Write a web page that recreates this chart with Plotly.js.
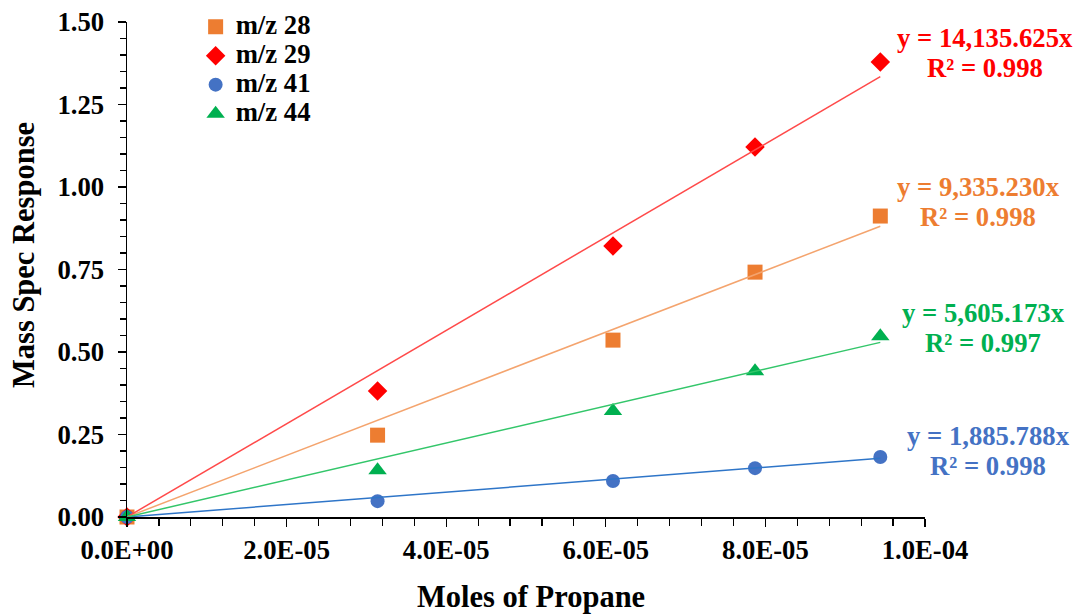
<!DOCTYPE html>
<html>
<head>
<meta charset="utf-8">
<script src="https://cdn.plot.ly/plotly-3.0.1.min.js"></script>
<style>html,body{margin:0;padding:0;background:#fff;}#chart{width:1079px;height:615px;}</style>
</head>
<body>
<div id="chart"></div>
<script>
// Data
var moles = [0.0, 3.14e-5, 6.09e-5, 7.87e-5, 9.44e-5];
var mz28 = [0.0, 0.248, 0.536, 0.742, 0.912];
var mz29 = [0.0, 0.382, 0.821, 1.121, 1.379];
var mz41 = [0.0, 0.048, 0.109, 0.148, 0.182];
var mz44 = [0.0, 0.142, 0.321, 0.442, 0.548];
var seriesNames = ["m/z 28", "m/z 29", "m/z 41", "m/z 44"];
var slopes = [9335.230, 14135.625, 1885.788, 5605.173];
var eqLabels = ["y = 9,335.230x", "y = 14,135.625x", "y = 1,885.788x", "y = 5,605.173x"];
var r2Labels = ["R² = 0.998", "R² = 0.998", "R² = 0.998", "R² = 0.997"];
var xTickVals = [0, 2e-5, 4e-5, 6e-5, 8e-5, 1e-4];
var xTickText = ["0.0E+00", "2.0E-05", "4.0E-05", "6.0E-05", "8.0E-05", "1.0E-04"];
var yTickVals = [0, 0.25, 0.5, 0.75, 1.0, 1.25, 1.5];
var yTickText = ["0.00", "0.25", "0.50", "0.75", "1.00", "1.25", "1.50"];
var xTitle = "Moles of Propane";
var yTitle = "Mass Spec Response";

var ys = [mz28, mz29, mz41, mz44];
var markerColors = ["#ED7D31", "#FF0000", "#4472C4", "#00B050"];
var lineColors = ["#F4A46E", "#FF4A4A", "#2E75C8", "#33C66A"];
var symbols = ["square", "diamond", "circle", "triangle-up"];
var markerSizes = [15, 15, 14, 16];
// annotation centre positions in pixels
var eqPos = [
  {x: 978, y: 187}, {x: 985, y: 38}, {x: 988, y: 436}, {x: 983, y: 313}
];

var FONT = "Liberation Serif, Times New Roman, serif";
var FS = 26.7;
var traces = [];
var xMax = moles[moles.length - 1];
for (var k = 0; k < 4; k++) {
  traces.push({
    x: moles, y: ys[k], name: '<span style="font-size:' + FS + 'px">' + seriesNames[k] + '</span>',
    mode: "markers", type: "scatter", cliponaxis: false,
    marker: {color: markerColors[k], symbol: symbols[k], size: markerSizes[k]}
  });
}
for (var i = 0; i < 4; i++) {
  traces.push({
    x: [0, xMax], y: [0, slopes[i] * xMax],
    mode: "lines", type: "scatter", showlegend: false, hoverinfo: "skip",
    line: {color: lineColors[i], width: 1.5}, cliponaxis: false
  });
}

var annotations = [];
var W = 1079, H = 615, L = 127, R = 154, T = 22, B = 98;
var pw = W - L - R, ph = H - T - B;
function px2x(p) { return (p - L) / pw; }
function px2y(p) { return 1 - (p - T) / ph; }
for (var m = 0; m < 4; m++) {
  annotations.push({xref: "paper", yref: "paper", x: px2x(eqPos[m].x), y: px2y(eqPos[m].y), text: "<b>" + eqLabels[m] + "</b>",
    showarrow: false, xanchor: "center", yanchor: "middle",
    font: {family: FONT, size: FS, color: markerColors[m]}});
  annotations.push({xref: "paper", yref: "paper", x: px2x(eqPos[m].x), y: px2y(eqPos[m].y + 30), text: "<b>" + r2Labels[m] + "</b>",
    showarrow: false, xanchor: "center", yanchor: "middle",
    font: {family: FONT, size: FS, color: markerColors[m]}});
}
// axis titles
annotations.push({xref: "paper", yref: "paper", x: px2x(531), y: px2y(597), text: "<b>" + xTitle + "</b>",
  showarrow: false, xanchor: "center", yanchor: "middle", font: {family: FONT, size: 30.5, color: "#000"}});
annotations.push({xref: "paper", yref: "paper", x: px2x(24), y: px2y(255), text: "<b>" + yTitle + "</b>",
  showarrow: false, xanchor: "center", yanchor: "middle", textangle: -90, font: {family: FONT, size: 30.5, color: "#000"}});

var layout = {
  width: W, height: H,
  margin: {l: L, r: R, t: T, b: B, pad: 0, autoexpand: false},
  paper_bgcolor: "#fff", plot_bgcolor: "#fff",
  font: {family: FONT, size: 20, color: "#000"},
  showlegend: true,
  legend: {x: 0.086, y: 1.030, xanchor: "left", yanchor: "top", bgcolor: "rgba(0,0,0,0)",
    font: {family: FONT, size: 20, color: "#000", weight: "bold"}, tracegroupgap: 0, itemwidth: 30},
  xaxis: {
    range: [0, 1e-4], tickmode: "array", tickvals: xTickVals, ticktext: xTickText,
    ticks: "outside", ticklen: 8, tickwidth: 1.2, tickcolor: "#000", ticklabelstandoff: 0,
    showline: true, linecolor: "#000", linewidth: 1.5, showgrid: false, zeroline: false,
    tickfont: {family: FONT, size: FS, weight: "bold"},
    minor: {tickmode: "linear", tick0: 0, dtick: 4e-6, ticks: "outside", ticklen: 7, tickcolor: "#000", tickwidth: 1.2, showgrid: false}
  },
  yaxis: {
    range: [0, 1.5], tickmode: "array", tickvals: yTickVals, ticktext: yTickText,
    ticks: "outside", ticklen: 8, tickwidth: 1.2, tickcolor: "#000", ticklabelstandoff: 8,
    showline: true, linecolor: "#000", linewidth: 1.5, showgrid: false, zeroline: false,
    tickfont: {family: FONT, size: FS, weight: "bold"},
    minor: {tickmode: "linear", tick0: 0, dtick: 0.05, ticks: "outside", ticklen: 6, tickcolor: "#000", tickwidth: 1.2, showgrid: false}
  },
  annotations: annotations
};

Plotly.newPlot("chart", traces, layout, {displayModeBar: false, staticPlot: true});
</script>
</body>
</html>
